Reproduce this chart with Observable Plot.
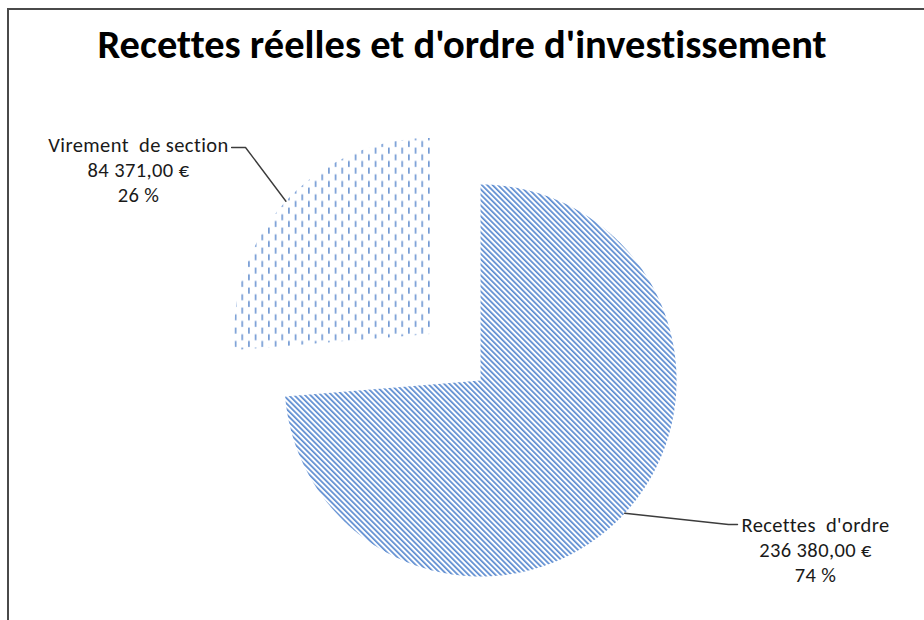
<!DOCTYPE html>
<html>
<head>
<meta charset="utf-8">
<script src="https://cdn.jsdelivr.net/npm/d3@7"></script>
<script src="https://cdn.jsdelivr.net/npm/@observablehq/plot@0.6"></script>
<style>
  html, body { margin: 0; padding: 0; background: #fff; }
  #wrap { position: relative; width: 924px; height: 620px; overflow: hidden; }
  #frame { position: absolute; left: 7px; top: 8px; width: 940px; height: 640px;
           border-left: 2px solid #4a4a4a; border-top: 2px solid #4a4a4a; pointer-events: none; }
  #title { position: absolute; left: 0; top: 19px; width: 924px; text-align: center;
           font-family: Carlito, Calibri, Lato, sans-serif; font-weight: bold; font-size: 40.5px; color: #000;
           font-variant-ligatures: none; }
  #chart { position: absolute; left: 0; top: 0; }
  #chart text { white-space: pre; letter-spacing: 0.4px; font-variant-ligatures: none; }
</style>
</head>
<body>
<div id="wrap">
  <svg width="0" height="0" style="position:absolute">
    <defs>
      <pattern id="diag" patternUnits="userSpaceOnUse" width="3.8" height="3.8" patternTransform="rotate(-45)">
        <rect x="0" y="0" width="1.7" height="3.8" fill="#5b8bd0"></rect>
      </pattern>
      <pattern id="dash" patternUnits="userSpaceOnUse" width="13.33" height="13.33">
        <rect x="1.1" y="0.5" width="1.4" height="6" fill="#5a88cc"></rect>
        <rect x="7.8" y="7.2" width="1.4" height="6" fill="#5a88cc"></rect>
      </pattern>
    </defs>
  </svg>
  <div id="chart"></div>
  <div id="title">Recettes réelles et d'ordre d'investissement</div>
  <div id="frame"></div>
</div>
<script>
// ---- data ----
const categories = ["Recettes  d'ordre", "Virement  de section"];
const amounts = [236380, 84371];

// ---- styling / layout (not data) ----
const fills = ["url(#diag)", "url(#dash)"];
const explode = [0, 0.35];
// label centre and leader elbow/end, in pie-radius units relative to pie centre
const labelPos = [{x: 1.709, y: -0.862}, {x: -1.745, y: 1.077}];
const leaderElbow = [{x: 1.265, y: -0.735}, {x: -1.199, y: 1.189}];
const leaderEnd = [{x: 1.311, y: -0.735}, {x: -1.270, y: 1.189}];

const fr = d3.formatLocale({decimal: ",", thousands: "\u00a0", grouping: [3], currency: ["", "\u00a0€"]});
const fmtMoney = fr.format("$,.2f");
const total = d3.sum(amounts);

const arcs = d3.pie().sort(null)(amounts);
const slicePts = [];
const leaders = [];
const labels = [];
arcs.forEach((p, i) => {
  const name = categories[i];
  const mid = (p.startAngle + p.endAngle) / 2;
  const ox = explode[i] * Math.sin(mid), oy = explode[i] * Math.cos(mid);
  slicePts.push({name, x: ox, y: oy});
  const n = Math.max(2, Math.ceil((p.endAngle - p.startAngle) / (Math.PI / 360)));
  for (let k = 0; k <= n; k++) {
    const a = p.startAngle + (p.endAngle - p.startAngle) * k / n;
    slicePts.push({name, x: ox + Math.sin(a), y: oy + Math.cos(a)});
  }
  slicePts.push({name, x: ox, y: oy});
  leaders.push({name, x: ox + Math.sin(mid), y: oy + Math.cos(mid)});
  leaders.push({name, x: leaderElbow[i].x, y: leaderElbow[i].y});
  leaders.push({name, x: leaderEnd[i].x, y: leaderEnd[i].y});
  labels.push({
    name,
    x: labelPos[i].x, y: labelPos[i].y,
    text: `${name}\n${fmtMoney(p.value)}\n${Math.round(p.value / total * 100)} %`
  });
});

const chart = Plot.plot({
  width: 924,
  height: 620,
  margin: 0,
  style: {background: "transparent"},
  x: {domain: [-2.449, 2.265], axis: null},
  y: {domain: [-1.2245, 1.9388], axis: null},
  marks: [
    ...categories.map((c, i) => Plot.line(slicePts.filter(d => d.name === c), {
      x: "x", y: "y", fill: fills[i], stroke: "none"
    })),
    Plot.line(leaders, {x: "x", y: "y", z: "name", stroke: "#3c3c3c", strokeWidth: 1.4}),
    Plot.text(labels, {
      x: "x", y: "y", text: "text", textAnchor: "middle", lineAnchor: "middle",
      fontSize: 20.5, lineHeight: 1.22, fill: "#1a1a1a",
      fontFamily: "Carlito, Calibri, Lato, sans-serif"
    })
  ]
});
document.getElementById("chart").appendChild(chart);
</script>
</body>
</html>
